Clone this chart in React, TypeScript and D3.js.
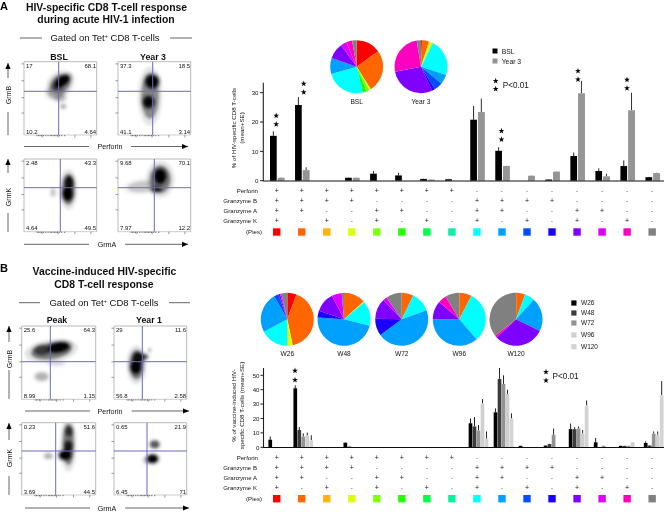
import React from "react";
import * as d3 from "d3";

const FONT = "'Liberation Sans', Arial, sans-serif";
const TXT = "#111";

const phenoColors = ["#ff0000","#ff6600","#ffb310","#dcff10","#80ff10","#20ff00","#00ff48","#10f0a0","#00ffff","#00a0ff","#0050ff","#1a00ff","#8000ff","#e000ff","#ff00c0","#808080"];
const categories = d3.range(16);
const perforinRow = "++++++++--------".split("");
const grzBRow = "++++----++++----".split("");
const grzARow = "++--++--++--++--".split("");
const grzKRow = "+-+-+-+-+-+-+-+-".split("");
const rowLabels = ["Perforin", "Granzyme B", "Granzyme A", "Granzyme K"];

const bslMean = [15.3,25.8,0,1,2.4,1.8,0.6,0.5,20.8,10.2,0,0.4,8.4,3.3,5,1.2];
const bslTop = [16.8,28.5,0,1.1,3.3,2.7,0.7,0.6,25.5,11.4,0,0.5,9.6,4.2,6.9,1.3];
const year3Mean = [1,3.6,0,1,0,0,0.4,0,23.4,5,1.7,3.1,29.8,1.5,24,2.6];
const year3Top = [1.1,4.6,0,1.1,0,0,0.5,0,28,5.1,1.8,3.2,34,2.4,30,2.7];
const sigA = [0,1,9,12,14];
const sigAHeight = [115.7,83.7,131,71,79.7];

const w26 = [5.3,41,0,3.2,0,0,0,0,16.7,24.3,1,1.2,12.6,3.5,1,3];
const w26Top = [7.5,43,0,3.4,0,0,0,0,20,27,1.1,1.3,16.5,6.5,1.1,4.2];
const w48 = [0,12,0,0.5,0,0,0,0,14.5,47.5,0,2.3,12.6,0,1,1.2];
const w48Top = [0,14,0,0.6,0,0,0,0,21,56,0,2.4,14,0,1.1,1.5];
const w72 = [0,7.5,0,0,0,0,0,0,11.7,44,0,8.7,13,1,1,9.5];
const w72Top = [0,9.7,0,0,0,0,0,0,15.5,50,0,13,14.5,1.1,1.1,11];
const w96 = [0,8.2,0,0,0,0,0,0,30.5,37,0,0,9.5,0,3.5,8.7];
const w96Top = [0,10.2,0,0,0,0,0,0,33.5,40,0,0,12,0,3.6,11];
const w120 = [0,4.8,0,0,0,0,0,0,6,20,0,0,29,0,0,36];
const w120Top = [0,8.3,0,0,0,0,0,0,11,23.6,0,0,32.5,0,0,46];

const pieBSL = [15,26.1,0,0.8,1.9,2.5,0,0,24.2,9.4,0.3,0,9.7,3.6,3.6,2.8];
const pieYear3 = [0.6,4.2,0.6,1.4,0.8,0,0,0,22.5,5.8,5.3,1.9,28.9,0,25.4,2.6];
const pieW26 = [5.6,41.1,0,3.3,0,0,0,0,17.2,24.4,2.8,0,1.1,0.8,0,3.6];
const pieW48 = [0,13.3,0,0.6,0,0,0,0,15,47.2,0,4.2,12.2,6.1,0,1.4];
const pieW72 = [0,7.2,0,0,0,0,0,0,12.2,45.6,0,10.3,12.6,2.4,0,9.7];
const pieW96 = [0,7.6,0,0,0,0,0,0,31,36.4,0,0,11.3,0,5.1,8.6];
const pieW120 = [0.3,5.3,0,0,0,0,0,0,6.1,20.6,0,0,30.8,0,1.4,35.6];

const bLegend = ["W26","W48","W72","W96","W120"];
const bColors = ["#000000","#3a3a3a","#939393","#cfcfcf","#d4d4d4"];
const bLegendY = [303,313,323,335,346.7];

// density blobs: fraction x, fraction y, fraction rx, fraction ry, rotation, strength
type Blob = number[];
type Flow = { x0: number; x1: number; y0: number; y1: number; vx: number; hy: number; nums: string[]; blobs: Blob[] };

const flowPanels: Flow[] = [
  { x0: 24, x1: 96.7, y0: 61.7, y1: 135, vx: 58.7, hy: 91.3, nums: ["17","68.1","10.2","4.64"],
    blobs: [[.44,.42,.11,.08,0,.25],[.5,.5,.07,.04,0,.18],[.54,.61,.03,.025,0,.3],[.5,.3,.14,.11,-35,.4],[.52,.27,.11,.055,-35,1]] },
  { x0: 118, x1: 190.7, y0: 61.7, y1: 135, vx: 152.7, hy: 91.3, nums: ["37.3","18.5","41.1","3.14"],
    blobs: [[.44,.47,.11,.28,0,.4],[.47,.27,.08,.08,-30,1],[.42,.55,.065,.07,0,.95]] },
  { x0: 24, x1: 96.7, y0: 159, y1: 231.7, vx: 60.3, hy: 187.7, nums: ["2.48","43.3","4.64","49.5"],
    blobs: [[.61,.42,.08,.19,0,.45],[.4,.46,.03,.05,0,.18],[.62,.33,.05,.08,0,.9],[.6,.48,.06,.08,0,1]] },
  { x0: 118, x1: 190.7, y0: 159, y1: 231.7, vx: 154.3, hy: 187.7, nums: ["9.68","70.1","7.97","12.2"],
    blobs: [[.33,.38,.18,.07,-5,.18],[.58,.28,.13,.17,0,.45],[.58,.24,.07,.09,0,1],[.53,.42,.06,.03,0,.75]] },
  { x0: 21.7, x1: 95.7, y0: 326, y1: 399.3, vx: 50.3, hy: 361.7, nums: ["25.6","64.3","8.99","1.15"],
    blobs: [[.27,.69,.08,.05,0,.25],[.47,.51,.1,.03,0,.12],[.4,.34,.25,.1,-8,.45],[.27,.33,.09,.06,0,.5],[.5,.29,.13,.06,-10,1]] },
  { x0: 114, x1: 186.7, y0: 326, y1: 399.3, vx: 142.3, hy: 361.7, nums: ["29","11.6","56.8","2.58"],
    blobs: [[.31,.53,.09,.18,0,.45],[.49,.33,.015,.02,0,.3],[.41,.42,.05,.03,0,.6],[.33,.44,.06,.07,0,.9],[.3,.56,.06,.08,0,1]] },
  { x0: 21.7, x1: 95.7, y0: 422.7, y1: 495, vx: 55.7, hy: 451, nums: ["0.23","51.6","3.69","44.5"],
    blobs: [[.63,.3,.07,.26,0,.45],[.36,.46,.05,.035,0,.25],[.64,.12,.045,.06,0,.6],[.63,.33,.045,.07,0,.8],[.585,.45,.07,.055,0,1]] },
  { x0: 114, x1: 186.7, y0: 422.7, y1: 495, vx: 147, hy: 451, nums: ["0.65","21.9","6.45","71"],
    blobs: [[.45,.52,.04,.04,0,.2],[.56,.3,.055,.045,0,.6],[.53,.5,.065,.05,0,1]] },
];
const leftTicks = [.03,.26,.49,.7];
const bottomTicks = [.25,.47,.7,.92];
const minorTicks = [.18,.2,.22,.24,.27,.3,.33,.36,.38,.4,.42,.44,.46,.49,.52,.56];

const T = (p: any) => <text fontFamily={FONT} fill={TXT} {...p} />;

function FlowPlot({ f, id }: { f: Flow; id: string }) {
  const sx = d3.scaleLinear().domain([0, 1]).range([f.x0, f.x1]);
  const sy = d3.scaleLinear().domain([0, 1]).range([f.y0, f.y1]);
  const w = f.x1 - f.x0, h = f.y1 - f.y0;
  return (
    <g>
      <clipPath id={id}><rect x={f.x0} y={f.y0} width={w} height={h} /></clipPath>
      <g clipPath={`url(#${id})`}>
        <g filter="url(#soft)">
          {f.blobs.map((b, i) => (
            <g key={i} transform={`rotate(${b[4]} ${sx(b[0])} ${sy(b[1])})`}>
              <ellipse cx={sx(b[0])} cy={sy(b[1])} rx={b[2] * w * 1.4 + 1} ry={b[3] * h * 1.4 + 1} fill="#000" fillOpacity={b[5] * 0.25} />
              <ellipse cx={sx(b[0])} cy={sy(b[1])} rx={b[2] * w * 1.1} ry={b[3] * h * 1.1} fill="#000" fillOpacity={b[5]} />
            </g>
          ))}
        </g>
      </g>
      <path d={`M${f.x0},${f.y1}V${f.y0}H${f.x1}V${f.y1}`} fill="none" stroke="#aaa" strokeWidth={0.8} />
      <line x1={f.vx} x2={f.vx} y1={f.y0} y2={f.y1} stroke="#6a6ac0" strokeWidth={1} />
      <line x1={f.x0} x2={f.x1} y1={f.hy} y2={f.hy} stroke="#6a6ac0" strokeWidth={1} />
      {leftTicks.map((t) => <line key={t} x1={f.x0 - 2.5} x2={f.x0} y1={sy(t)} y2={sy(t)} stroke="#555" strokeWidth={0.6} />)}
      {bottomTicks.map((t) => <line key={t} x1={sx(t)} x2={sx(t)} y1={f.y1} y2={f.y1 + 2.5} stroke="#555" strokeWidth={0.6} />)}
      {minorTicks.map((t) => <line key={t} x1={sx(t)} x2={sx(t)} y1={f.y1} y2={f.y1 + 1.2} stroke="#222" strokeWidth={0.7} />)}
      <line x1={f.x0} x2={f.x1} y1={f.y1} y2={f.y1} stroke="#999" strokeWidth={0.5} />
      <T x={f.x0 + 2} y={f.y0 + 6} fontSize={6}>{f.nums[0]}</T>
      <T x={f.x1 - 0.5} y={f.y0 + 6} fontSize={6} textAnchor="end">{f.nums[1]}</T>
      <T x={f.x0 + 2} y={f.y1 - 1.5} fontSize={6}>{f.nums[2]}</T>
      <T x={f.x1 - 0.5} y={f.y1 - 1.5} fontSize={6} textAnchor="end">{f.nums[3]}</T>
    </g>
  );
}

function Pie({ values, cx, cy, r, label, ly }: { values: number[]; cx: number; cy: number; r: number; label: string; ly: number }) {
  const arcs = d3.pie<number>().sort(null).value((d) => d)(values);
  const arc = d3.arc<d3.PieArcDatum<number>>().innerRadius(0).outerRadius(r);
  return (
    <g>
      <g transform={`translate(${cx},${cy})`}>
        {arcs.map((a, i) => a.value > 0 && <path key={i} d={arc(a) as string} fill={phenoColors[i]} />)}
      </g>
      <T x={cx} y={ly} fontSize={6.6} textAnchor="middle">{label}</T>
    </g>
  );
}

function Star({ x, y }: { x: number; y: number }) {
  const d = d3.symbol().type(d3.symbolStar).size(11)() as string;
  return <path d={d} transform={`translate(${x},${y})`} fill="#000" />;
}

function Matrix({ xs, ys, swatchY }: { xs: d3.ScalePoint<number>; ys: number[]; swatchY: number }) {
  const rows = [perforinRow, grzBRow, grzARow, grzKRow];
  return (
    <g>
      {rows.map((row, r) => (
        <g key={r}>
          <T x={r === 0 ? 258 : 257} y={ys[r] + 2} fontSize={6.1} textAnchor="end">{rowLabels[r]}</T>
          {row.map((s, i) => (
            <text key={i} x={xs(i)} y={ys[r] + 2.3} fontSize={7} textAnchor="middle" fontFamily={FONT}
              fill={s === "+" ? "#111" : "#666"}>{s}</text>
          ))}
        </g>
      ))}
      <T x={262} y={swatchY + 2} fontSize={6.1} textAnchor="end">(Pies)</T>
      {categories.map((i) => (
        <rect key={i} x={(xs(i) as number) - 3.7} y={swatchY - 3.7} width={7.4} height={7.4} fill={phenoColors[i]} />
      ))}
    </g>
  );
}

const xs = d3.scalePoint<number>().domain(categories).range([276.7, 276.7 + 15 * 25.03]);
const yA = d3.scaleLinear().domain([0, 30]).range([180.7, 92.7]);
const yB = d3.scaleLinear().domain([0, 50]).range([447.3, 375.3]);

function Arrow({ x1, y1, x2, y2 }: { x1: number; y1: number; x2: number; y2: number }) {
  const horiz = y1 === y2;
  const head = horiz ? `M${x2},${y2}l-6,-2.6v5.2z` : `M${x2},${y2}l-2.6,6h5.2z`;
  return <g><line x1={x1} y1={y1} x2={x2} y2={y2} stroke="#222" strokeWidth={0.7} /><path d={head} fill="#000" /></g>;
}
const L = ({ a, b, c, d }: any) => <line x1={a} y1={b} x2={c} y2={d} stroke="#222" strokeWidth={0.7} />;

export default function App() {
  const seriesB = [[w26, w26Top], [w48, w48Top], [w72, w72Top], [w96, w96Top], [w120, w120Top]];
  return (
    <svg width={664} height={512} viewBox="0 0 664 512" style={{ position: "absolute", left: 0, top: 0, background: "#fff" }}>
      <defs>
        <filter id="soft" x="-30%" y="-30%" width="160%" height="160%"><feGaussianBlur stdDeviation={1.7} /></filter>
        <filter id="page" filterUnits="userSpaceOnUse" x={0} y={0} width={664} height={512}><feGaussianBlur stdDeviation={0.35} /></filter>
      </defs>
      <g filter="url(#page)">
      <rect x={0} y={0} width={664} height={512} fill="#fff" />

      {/* Panel A left */}
      <T x={0} y={10} fontSize={11} fontWeight="bold" fill="#000">A</T>
      <T x={106.5} y={10.5} fontSize={10.4} fontWeight="bold" textAnchor="middle">HIV-specific CD8 T-cell response</T>
      <T x={106} y={23} fontSize={10.4} fontWeight="bold" textAnchor="middle">during acute HIV-1 infection</T>
      <L a={20} b={38} c={42} d={38} /><L a={170} b={38} c={192} d={38} />
      <T x={105} y={41.2} fontSize={9.5} textAnchor="middle">Gated on Tet<tspan fontSize={5.5} dy={-2.8}>+</tspan><tspan dy={2.8}> CD8 T-cells</tspan></T>
      <T x={59} y={60} fontSize={8.8} fontWeight="bold" textAnchor="middle">BSL</T>
      <T x={153} y={60} fontSize={8.8} fontWeight="bold" textAnchor="middle">Year 3</T>
      <Arrow x1={8} y1={78} x2={8} y2={63} /><L a={8} b={112} c={8} d={135} />
      <T transform="translate(10.5,95) rotate(-90)" fontSize={7} textAnchor="middle">GrmB</T>
      <Arrow x1={8} y1={173} x2={8} y2={159} /><L a={8} b={213} c={8} d={232} />
      <T transform="translate(10.5,197) rotate(-90)" fontSize={7} textAnchor="middle">GrmK</T>
      <L a={24} b={146.5} c={89} d={146.5} /><Arrow x1={131} y1={146.5} x2={188} y2={146.5} />
      <T x={110} y={149} fontSize={7.1} textAnchor="middle">Perforin</T>
      <L a={24} b={244.3} c={89} d={244.3} /><Arrow x1={125} y1={244.3} x2={188} y2={244.3} />
      <T x={107} y={247} fontSize={7.1} textAnchor="middle">GrmA</T>

      {/* Panel B left */}
      <T x={0} y={272} fontSize={11} fontWeight="bold" fill="#000">B</T>
      <T x={104.5} y={274.7} fontSize={10.4} fontWeight="bold" textAnchor="middle">Vaccine-induced HIV-specific</T>
      <T x={104} y={287.7} fontSize={10.4} fontWeight="bold" textAnchor="middle">CD8 T-cell response</T>
      <L a={19} b={302.7} c={40} d={302.7} /><L a={169} b={302.7} c={190} d={302.7} />
      <T x={104} y={305.9} fontSize={9.5} textAnchor="middle">Gated on Tet<tspan fontSize={5.5} dy={-2.8}>+</tspan><tspan dy={2.8}> CD8 T-cells</tspan></T>
      <T x={57} y={323} fontSize={8.8} fontWeight="bold" textAnchor="middle">Peak</T>
      <T x={149} y={323} fontSize={8.8} fontWeight="bold" textAnchor="middle">Year 1</T>
      <Arrow x1={9} y1={342} x2={9} y2={326} /><L a={9} b={370} c={9} d={399} />
      <T transform="translate(11.5,359) rotate(-90)" fontSize={7} textAnchor="middle">GrmB</T>
      <Arrow x1={9} y1={440} x2={9} y2={423} /><L a={9} b={476} c={9} d={495} />
      <T transform="translate(11.5,458) rotate(-90)" fontSize={7} textAnchor="middle">GrmK</T>
      <L a={25} b={411} c={90} d={411} /><Arrow x1={131.7} y1={411} x2={189} y2={411} />
      <T x={110} y={413.5} fontSize={7.1} textAnchor="middle">Perforin</T>
      <L a={25} b={508} c={90} d={508} /><Arrow x1={125} y1={508} x2={189} y2={508} />
      <T x={107} y={510.5} fontSize={7.1} textAnchor="middle">GrmA</T>

      {flowPanels.map((f, i) => <FlowPlot key={i} f={f} id={`fc${i}`} />)}

      {/* Panel A right */}
      <Pie values={pieBSL} cx={356.7} cy={66.7} r={26.5} label="BSL" ly={104} />
      <Pie values={pieYear3} cx={421} cy={66.7} r={26.5} label="Year 3" ly={104} />
      <rect x={492.5} y={48.5} width={5} height={5} fill="#000" />
      <rect x={492.5} y={58.5} width={5} height={5} fill="#939393" />
      <T x={501.7} y={53.5} fontSize={6.8}>BSL</T>
      <T x={501.7} y={63.5} fontSize={6.8}>Year 3</T>
      <Star x={495.7} y={81} /><Star x={495.7} y={89} />
      <T x={502.7} y={88} fontSize={8.2}>P&lt;0.01</T>

      {[0, 10, 20, 30].map((t) => (
        <g key={t}>
          <line x1={260} x2={263} y1={yA(t)} y2={yA(t)} stroke="#222" strokeWidth={1} />
          <T x={258.5} y={yA(t) + 2.2} fontSize={6.1} textAnchor="end">{t}</T>
        </g>
      ))}
      <line x1={263.3} x2={263.3} y1={82.7} y2={181} stroke="#222" strokeWidth={1.1} />
      <T transform="translate(236,128) rotate(-90)" fontSize={6.2} textAnchor="middle">% of HIV-specific CD8 T-cells</T>
      <T transform="translate(243.5,128) rotate(-90)" fontSize={6.2} textAnchor="middle">(mean+SE)</T>
      {categories.map((i) => {
        const c = xs(i) as number;
        return (
          <g key={i}>
            {bslMean[i] > 0 && <g>
              <line x1={c - 3.35} x2={c - 3.35} y1={yA(bslMean[i])} y2={yA(bslTop[i])} stroke="#222" strokeWidth={1} />
              <rect x={c - 6.7} y={yA(bslMean[i])} width={6.7} height={yA(0) - yA(bslMean[i])} fill="#000" />
            </g>}
            {year3Mean[i] > 0 && <g>
              <line x1={c + 4.4} x2={c + 4.4} y1={yA(year3Mean[i])} y2={yA(year3Top[i])} stroke="#333" strokeWidth={1} />
              <rect x={c + 1} y={yA(year3Mean[i])} width={6.9} height={yA(0) - yA(year3Mean[i])} fill="#959595" />
            </g>}
          </g>
        );
      })}
      <line x1={262.8} x2={664} y1={181} y2={181} stroke="#111" strokeWidth={1.2} />
      {sigA.map((idx, k) => {
        const x = idx === 1 ? 303.7 : idx === 12 ? 578 : idx === 14 ? 627 : (xs(idx) as number) - 0.5;
        return <g key={idx}><Star x={x} y={sigAHeight[k]} /><Star x={x} y={sigAHeight[k] + 8.5} /></g>;
      })}
      <Matrix xs={xs} ys={[191, 201, 211, 221]} swatchY={232} />

      {/* Panel B right */}
      <Pie values={pieW26} cx={287.3} cy={319.3} r={26.5} label="W26" ly={355.5} />
      <Pie values={pieW48} cx={344} cy={319.3} r={26.5} label="W48" ly={355.5} />
      <Pie values={pieW72} cx={401.7} cy={319.3} r={26.5} label="W72" ly={355.5} />
      <Pie values={pieW96} cx={459.3} cy={319.3} r={26.5} label="W96" ly={355.5} />
      <Pie values={pieW120} cx={516} cy={319.3} r={26.5} label="W120" ly={355.5} />
      {bLegend.map((n, i) => (
        <g key={n}>
          <rect x={571.3} y={bLegendY[i] - 2.6} width={5.2} height={5.2} fill={bColors[i]} />
          <T x={581} y={bLegendY[i] + 2.3} fontSize={6.5}>{n}</T>
        </g>
      ))}
      <Star x={546} y={372} /><Star x={546} y={380.5} />
      <T x={552.5} y={379} fontSize={8.2}>P&lt;0.01</T>

      {[0, 10, 20, 30, 40, 50].map((t) => (
        <g key={t}>
          <line x1={260.5} x2={263.3} y1={yB(t)} y2={yB(t)} stroke="#222" strokeWidth={1} />
          <T x={259.5} y={yB(t) + 2.2} fontSize={6.1} textAnchor="end">{t}</T>
        </g>
      ))}
      <line x1={263.5} x2={263.5} y1={368} y2={447.5} stroke="#222" strokeWidth={1.1} />
      <T transform="translate(235.5,405.5) rotate(-90)" fontSize={6.2} textAnchor="middle">% of vaccine-induced HIV-</T>
      <T transform="translate(243.5,405.5) rotate(-90)" fontSize={6.2} textAnchor="middle">specific CD8 T-cells (mean+SE)</T>
      {categories.map((i) => {
        const c = xs(i) as number;
        return (
          <g key={i}>
            {seriesB.map(([vals, tops], s) => {
              if (vals[i] <= 0) return null;
              const bx = c - 8.3 + s * 4;
              return (
                <g key={s}>
                  <line x1={bx + 1.85} x2={bx + 1.85} y1={yB(vals[i])} y2={Math.max(yB(tops[i]), 368)} stroke="#222" strokeWidth={1} />
                  <rect x={bx} y={yB(vals[i])} width={3.7} height={yB(0) - yB(vals[i])} fill={bColors[s]} />
                </g>
              );
            })}
          </g>
        );
      })}
      <line x1={263} x2={664} y1={447.5} y2={447.5} stroke="#111" strokeWidth={1.2} />
      <Star x={295} y={370.7} /><Star x={295} y={380} />
      <Matrix xs={xs} ys={[457.7, 467.7, 478, 488]} swatchY={498.7} />
      </g>
    </svg>
  );
}
